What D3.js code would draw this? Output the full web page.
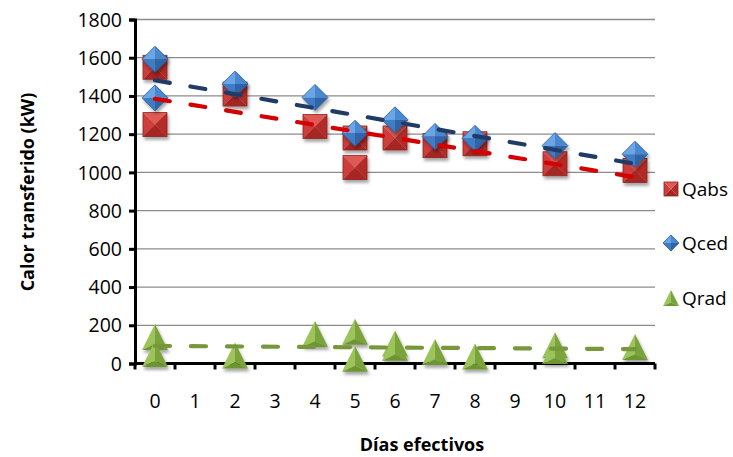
<!DOCTYPE html>
<html><head><meta charset="utf-8">
<script src="https://cdn.jsdelivr.net/npm/d3@7/dist/d3.min.js"></script>
<style>
body{margin:0;background:#fff;}
svg{display:block;font-family:"Open Sans",sans-serif;}
</style></head><body>
<svg id="c" width="733" height="457"></svg>
<script>
const days = [0,1,2,3,4,5,6,7,8,9,10,11,12];
const yTicks = [0,200,400,600,800,1000,1200,1400,1600,1800];
const seriesNames = ["Qabs","Qced","Qrad"];
const qabsX = [0,0,2,4,5,5,6,7,8,10,12];
const qabsY = [1550,1250,1410,1240,1180,1025,1180,1140,1150,1045,1010];
const qcedX = [0,0,2,4,5,6,7,8,10,12];
const qcedY = [1592,1390,1462,1392,1205,1275,1188,1178,1140,1095];
const qradX = [0,0,2,4,5,5,6,6,7,8,10,10,12];
const qradY = [139,50,42,154,166,25,104,83,60,36,95,66,86];
const trendX = [0,12];
const trendQabs = [1385,975];
const trendQced = [1482,1045];
const trendQrad = [92,75];

const FONT = "'Open Sans', sans-serif";
const svg = d3.select("#c");
const L=135, R=655, T=19.5, B=363.5;
const x = d3.scaleLinear().domain([-0.5,12.5]).range([L,R]);
const y = d3.scaleLinear().domain([0,1800]).range([B,T]);

const defs = svg.append("defs");
const f = defs.append("filter").attr("id","sh").attr("x","-50%").attr("y","-50%").attr("width","200%").attr("height","200%");
f.append("feDropShadow").attr("dx",1.5).attr("dy",3).attr("stdDeviation",1.8).attr("flood-color","#000").attr("flood-opacity",0.35);

// gridlines
svg.append("g").selectAll("line").data(yTicks.filter(d=>d>0)).join("line")
  .attr("x1",L).attr("x2",R).attr("y1",d=>y(d)).attr("y2",d=>y(d))
  .attr("stroke","#8c8c8c").attr("stroke-width",1.3);

// y axis
const ya = svg.append("g").attr("transform",`translate(${L},0)`)
  .call(d3.axisLeft(y).tickValues(yTicks).tickFormat(d3.format("d")).tickSize(6).tickPadding(7));
ya.select(".domain").attr("stroke","#000").attr("stroke-width",3);
ya.selectAll(".tick line").attr("stroke","#000").attr("stroke-width",3);
ya.selectAll(".tick text").attr("font-size",19.5).attr("fill","#000").attr("font-family",FONT).attr("dy","0.34em");

// x axis (category style: ticks between categories)
const xa = svg.append("g").attr("transform",`translate(0,${B})`);
xa.append("line").attr("x1",L).attr("x2",R).attr("stroke","#000").attr("stroke-width",3);
xa.selectAll("line.tk").data(d3.range(-0.5,13,1)).join("line").attr("class","tk")
  .attr("x1",d=>x(d)).attr("x2",d=>x(d)).attr("y1",0).attr("y2",6)
  .attr("stroke","#000").attr("stroke-width",3);
xa.selectAll("text").data(days).join("text")
  .attr("x",d=>x(d)).attr("y",44).attr("text-anchor","middle")
  .attr("font-size",19.5).attr("font-family",FONT).text(d=>d);

// titles
svg.append("text").attr("transform","translate(34,192) rotate(-90)")
  .attr("text-anchor","middle").attr("font-size",18).attr("font-weight","bold")
  .attr("font-family",FONT).text("Calor transferido (kW)");
svg.append("text").attr("x",422).attr("y",451).attr("text-anchor","middle")
  .attr("font-size",18).attr("font-weight","bold").attr("font-family",FONT).text("Días efectivos");

// trend lines
const line = d3.line().x(d=>x(d[0])).y(d=>y(d[1]));
function trend(vals,color){
  svg.append("path").datum(trendX.map((d,i)=>[d,vals[i]])).attr("d",line)
    .attr("fill","none").attr("stroke",color).attr("stroke-width",4.2)
    .attr("stroke-linecap","round").attr("stroke-dasharray","15 21");
}

// markers
function square(g,s){
  const h=s/2;
  g.append("path").attr("d",`M${-h},${-h}L${h},${-h}L0,0Z`).attr("fill","#e05a55");
  g.append("path").attr("d",`M${-h},${-h}L0,0L${-h},${h}Z`).attr("fill","#cc3e3a");
  g.append("path").attr("d",`M${h},${-h}L${h},${h}L0,0Z`).attr("fill","#b32b28");
  g.append("path").attr("d",`M${-h},${h}L0,0L${h},${h}Z`).attr("fill","#a52522");
  g.append("rect").attr("x",-h).attr("y",-h).attr("width",s).attr("height",s).attr("fill","none").attr("stroke","#8e2220").attr("stroke-width",0.8);
}
function diamond(g,s){
  const h=s/2;
  g.append("path").attr("d",`M0,${-h}L${-h},0L0,0Z`).attr("fill","#6aa6e6");
  g.append("path").attr("d",`M0,${-h}L${h},0L0,0Z`).attr("fill","#4a88d0");
  g.append("path").attr("d",`M${-h},0L0,${h}L0,0Z`).attr("fill","#3f7cc4");
  g.append("path").attr("d",`M${h},0L0,${h}L0,0Z`).attr("fill","#2f65a8");
  g.append("path").attr("d",`M0,${-h}L${h},0L0,${h}L${-h},0Z`).attr("fill","none").attr("stroke","#2a5a96").attr("stroke-width",0.8);
}
function triangle(g,s){
  const h=s/2;
  g.append("path").attr("d",`M0,${-h}L${-h},${h}L0,${h*0.55}Z`).attr("fill","#9cc45a");
  g.append("path").attr("d",`M0,${-h}L${h},${h}L0,${h*0.55}Z`).attr("fill","#7aa43a");
  g.append("path").attr("d",`M${-h},${h}L${h},${h}L0,${h*0.55}Z`).attr("fill","#6d9632");
}
function markers(xs,ys,fn,s){
  const g = svg.append("g").attr("filter","url(#sh)");
  xs.forEach((d,i)=>{
    fn(g.append("g").attr("transform",`translate(${x(d)},${y(ys[i])})`),s);
  });
}
markers(qabsX,qabsY,square,24);
markers(qcedX,qcedY,diamond,26);
trend(trendQced,"#1f3b66");
trend(trendQabs,"#d40000");
markers(qradX,qradY,triangle,26);
trend(trendQrad,"#77983a");

// legend
const leg = [[square,189,14],[diamond,243,16],[triangle,298,16]];
leg.forEach((d,i)=>{
  const g = svg.append("g").attr("transform",`translate(671,${d[1]})`);
  d[0](g,d[2]);
  svg.append("text").attr("x",682).attr("y",d[1]+7).attr("font-size",19)
    .attr("font-family",FONT).text(seriesNames[i]);
});
</script>
</body></html>
